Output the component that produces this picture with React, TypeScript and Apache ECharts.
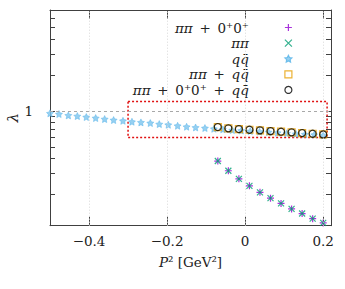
import React, { useEffect, useRef } from 'react';
import * as echarts from 'echarts';

// ---- data ----
const starP2 = [-0.5, -0.477, -0.453, -0.43, -0.407, -0.383, -0.36, -0.337, -0.313, -0.29, -0.267, -0.243, -0.22, -0.197, -0.173, -0.15, -0.127, -0.103, -0.08, -0.057, -0.033, -0.01, 0.013, 0.037, 0.06, 0.083, 0.107, 0.13, 0.153, 0.177, 0.2];
const qqLambda = [0.957, 0.944, 0.92, 0.908, 0.891, 0.874, 0.857, 0.841, 0.829, 0.814, 0.804, 0.794, 0.778, 0.768, 0.753, 0.739, 0.729, 0.721, 0.711, 0.703, 0.693, 0.687, 0.68, 0.673, 0.667, 0.659, 0.652, 0.645, 0.639, 0.634, 0.626];
const p2 = [-0.07, -0.043, -0.016, 0.011, 0.038, 0.065, 0.092, 0.119, 0.146, 0.173, 0.2];
const pipi00Lambda = [0.382, 0.317, 0.271, 0.237, 0.209, 0.187, 0.169, 0.152, 0.139, 0.126, 0.116];
const pipiLambda = [0.382, 0.317, 0.271, 0.237, 0.209, 0.187, 0.169, 0.152, 0.139, 0.126, 0.116];
const pipiQqLambda = [0.735, 0.717, 0.707, 0.698, 0.69, 0.68, 0.672, 0.664, 0.655, 0.646, 0.638];
const fullLambda = [0.735, 0.717, 0.707, 0.698, 0.69, 0.68, 0.672, 0.664, 0.655, 0.646, 0.638];

const seriesNames = ['ππ + 0⁺0⁺', 'ππ', 'qq\u0304', 'ππ + qq\u0304', 'ππ + 0⁺0⁺ + qq\u0304'];
const xTicks = [-0.4, -0.2, 0, 0.2];
const yTicks = [0.2, 0.3, 0.4, 0.5, 0.6, 0.7, 0.8, 0.9, 1, 2, 3, 4, 5, 6];
const yLabels = [1];
const refLambda = 1;
const boxP2 = [-0.3, 0.21];
const boxLambda = [0.6, 1.2];
const xRange = [-0.5, 0.22];
const yRange = [0.11, 7];

const FONT = "'DejaVu Serif', 'Liberation Serif', serif";
const STAR = 'path://M0,-10L2.94,-4.05L9.51,-3.09L4.76,1.55L5.88,8.09L0,5L-5.88,8.09L-4.76,1.55L-9.51,-3.09L-2.94,-4.05Z';
const PLUS = 'path://M0,-10L0,10M-10,0L10,0';
const CROSS = 'path://M-10,-10L10,10M-10,10L10,-10';
const SQUARE = 'path://M0,0L10,0L10,10L0,10Z';

const pair = (xs: number[], ys: number[]) => xs.map((x, i) => [x, ys[i]]);
const richName = (s: string) => s.replace(/(π|q\u0304?|P)/g, '{i|$1}');

export default function App() {
  const ref = useRef<HTMLDivElement>(null);
  useEffect(() => {
    const chart = echarts.init(ref.current!, undefined, { renderer: 'svg' });
    const axisLine = { show: true, onZero: false, lineStyle: { color: '#404040', width: 1 } };
    const txt = { fontFamily: FONT, fontSize: 13.5, color: '#222' };
    const italic = { ...txt, fontStyle: 'italic', lineHeight: 15 };
    chart.setOption({
      animation: false,
      backgroundColor: '#fff',
      grid: { left: 50, right: 14, top: 10, bottom: 63.3, containLabel: false, outerBoundsMode: 'none' },
      legend: {
        data: seriesNames,
        orient: 'vertical',
        align: 'right',
        right: 52.5,
        top: 20,
        padding: 0,
        itemGap: 0.6,
        itemWidth: 7,
        itemHeight: 7,
        selectedMode: false,
        itemStyle: { borderWidth: 1.2 },
        formatter: (n: string) => richName(n).replace(/ \+ /g, '\u2002+\u2002'),
        textStyle: { ...txt, lineHeight: 15, padding: [0, 31, 0, 0], rich: { i: italic } },
      },
      xAxis: [
        {
          type: 'value', min: xRange[0], max: xRange[1], position: 'bottom',
          axisLine, splitLine: { show: false },
          axisTick: { inside: true, length: 9, customValues: xTicks, lineStyle: { color: '#404040' } },
          axisLabel: {
            ...txt, customValues: xTicks, margin: 8,
            formatter: (v: number) => (v < 0 ? '\u2212' + Math.abs(v) : String(v)),
          },
          name: richName('P² [GeV²]'), nameLocation: 'middle', nameGap: 29, nameMoveOverlap: false,
          nameTextStyle: { ...txt, rich: { i: italic } },
        },
        {
          type: 'value', min: xRange[0], max: xRange[1], position: 'top',
          axisLine, splitLine: { show: false },
          axisTick: { inside: true, length: 9, customValues: xTicks, lineStyle: { color: '#404040' } },
          axisLabel: { show: false },
        },
      ],
      yAxis: [
        {
          type: 'log', logBase: 10, min: yRange[0], max: yRange[1], position: 'left',
          axisLine, splitLine: { show: false }, minorTick: { show: false },
          axisTick: { inside: true, length: 5, customValues: yTicks, lineStyle: { color: '#404040' } },
          axisLabel: { ...txt, customValues: yLabels, margin: 17, showMinLabel: false, showMaxLabel: false },
          name: 'λ', nameLocation: 'middle', nameRotate: 90, nameGap: 30, nameMoveOverlap: false,
          nameTextStyle: { ...txt, fontSize: 15, fontStyle: 'italic' },
        },
        {
          type: 'log', logBase: 10, min: yRange[0], max: yRange[1], position: 'right',
          axisLine, splitLine: { show: false },
          axisTick: { inside: true, length: 5, customValues: yTicks, lineStyle: { color: '#404040' } },
          axisLabel: { show: false },
        },
      ],
      series: [
        {
          name: seriesNames[0], type: 'scatter', data: pair(p2, pipi00Lambda),
          symbol: PLUS, symbolSize: 7,
          itemStyle: { color: '#9400D3', borderColor: '#9400D3', borderWidth: 1.2 },
          markLine: {
            silent: true, symbol: 'none', label: { show: false },
            lineStyle: { type: [1, 2], color: '#d8d8d8', width: 1 },
            data: [
              ...xTicks.map((v) => ({ xAxis: v })),
              { yAxis: refLambda, lineStyle: { type: [3, 3], color: '#a8a8a8', width: 1 } },
            ],
          },
          markArea: {
            silent: true,
            itemStyle: { color: 'rgba(0,0,0,0)', borderColor: '#e01010', borderWidth: 1.5, borderType: [2, 2] },
            data: [[{ coord: [boxP2[0], boxLambda[1]] }, { coord: [boxP2[1], boxLambda[0]] }]],
          },
        },
        {
          name: seriesNames[1], type: 'scatter', data: pair(p2, pipiLambda),
          symbol: CROSS, symbolSize: 6,
          itemStyle: { color: '#009E73', borderColor: '#009E73', borderWidth: 1.2 },
        },
        {
          name: seriesNames[2], type: 'scatter', data: pair(starP2, qqLambda),
          symbol: STAR, symbolSize: 7,
          itemStyle: { color: '#7cc4ee', borderColor: '#56B4E9', borderWidth: 0.6 },
        },
        {
          name: seriesNames[3], type: 'scatter', data: pair(p2, pipiQqLambda),
          symbol: SQUARE, symbolSize: 7,
          itemStyle: { color: 'rgba(0,0,0,0)', borderColor: '#E69F00', borderWidth: 1.2 },
        },
        {
          name: seriesNames[4], type: 'scatter', data: pair(p2, fullLambda),
          symbol: 'circle', symbolSize: 7,
          itemStyle: { color: 'rgba(0,0,0,0)', borderColor: '#000', borderWidth: 1.2 },
        },
      ],
    });
    return () => chart.dispose();
  }, []);
  return <div ref={ref} style={{ position: 'fixed', left: 0, top: 0, width: 345, height: 289 }} />;
}
